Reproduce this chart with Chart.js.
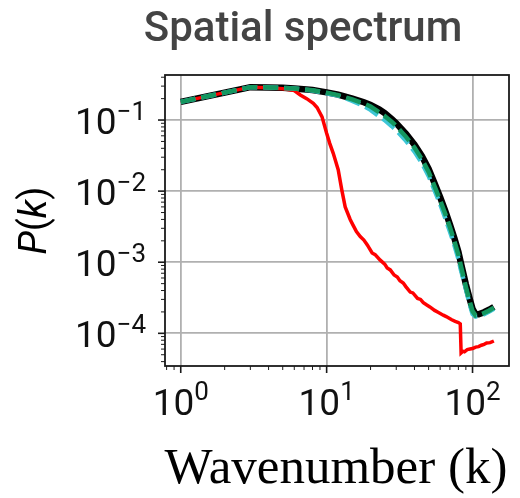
<!DOCTYPE html>
<html>
<head>
<meta charset="utf-8">
<script src="https://cdn.jsdelivr.net/npm/chart.js@4.4.0/dist/chart.umd.min.js"></script>
<style>
    html, body { margin: 0; padding: 0; background: #fff; }
    #wrap { width: 520px; height: 498px; }
</style>
</head>
<body>
<div id="wrap"><canvas id="spectrumChart" width="520" height="498"></canvas></div>
<script>
// wavenumbers shared by the three reference-like curves
const wavenumbers = [1, 2, 3, 4, 5, 6, 8, 10, 12, 15, 18, 20, 23, 25, 28, 30, 35, 40, 45, 50,
    55, 60, 65, 70, 75, 80, 83, 87, 90, 95, 100, 105, 110, 120, 130, 140];

const truthSpectrum = [0.18, 0.243, 0.29, 0.288, 0.284, 0.278, 0.264, 0.245, 0.228, 0.2, 0.178, 0.163,
    0.14, 0.125, 0.103, 0.09, 0.064, 0.045, 0.031, 0.0205, 0.0128, 0.0082, 0.0053, 0.0034, 0.0022,
    0.0014, 0.001, 6.6e-4, 4.9e-4, 3.2e-4, 2.2e-4, 1.85e-4, 1.85e-4, 1.98e-4, 2.15e-4, 2.35e-4];

const greenSpectrum = [0.18, 0.243, 0.29, 0.288, 0.284, 0.278, 0.263, 0.243, 0.224, 0.195, 0.171, 0.155,
    0.128, 0.114, 0.094, 0.082, 0.058, 0.041, 0.028, 0.0186, 0.0116, 0.0074, 0.0048, 0.0031, 0.002,
    0.00127, 9.1e-4, 6.1e-4, 4.5e-4, 2.95e-4, 2.05e-4, 1.78e-4, 1.8e-4, 1.93e-4, 2.1e-4, 2.3e-4];

const cyanSpectrum = [0.18, 0.243, 0.29, 0.288, 0.284, 0.277, 0.26, 0.238, 0.221, 0.186, 0.157, 0.139,
    0.112, 0.1, 0.082, 0.072, 0.051, 0.036, 0.0248, 0.0164, 0.0102, 0.0066, 0.0042, 0.0027, 0.00176,
    0.00112, 8.0e-4, 5.6e-4, 4.2e-4, 2.7e-4, 1.87e-4, 1.72e-4, 1.74e-4, 1.86e-4, 2.03e-4, 2.22e-4];

// red curve has its own sampling (jagged tail, sharp drop near k = 83)
const redWavenumbers = [1, 2, 3, 4, 5, 6, 6.6, 7.3, 8.1, 8.6, 9.3, 10, 10.5, 11.1, 12, 12.7, 13.4, 14.5,
    15.2, 16, 17, 18, 19, 20.5, 21.5, 23.3, 25, 26, 27.3, 29, 30.5, 31.8, 33.5, 35, 37.4, 39, 42, 44,
    46, 48.6, 51, 55, 58, 63, 66, 72, 76, 80, 82.4,
    83.5, 86, 88, 92, 96, 100, 105, 110, 115, 120, 125, 132, 140];
const redSpectrum = [0.18, 0.243, 0.29, 0.285, 0.276, 0.26, 0.225, 0.2, 0.172, 0.15, 0.111, 0.065, 0.047,
    0.034, 0.02, 0.0104, 0.006, 0.004, 0.0033, 0.0027, 0.0023, 0.00205, 0.00175, 0.00135, 0.00128,
    0.00107, 9.4e-4, 8.3e-4, 7.8e-4, 6.6e-4, 6.2e-4, 5.5e-4, 5.1e-4, 4.5e-4, 3.8e-4, 3.7e-4, 3.1e-4,
    3.0e-4, 2.7e-4, 2.5e-4, 2.35e-4, 2.1e-4, 1.98e-4, 1.8e-4, 1.72e-4, 1.55e-4, 1.47e-4, 1.42e-4, 1.36e-4,
    5.3e-5, 5.6e-5, 5.5e-5, 5.9e-5, 6.0e-5, 6.1e-5, 6.4e-5, 6.5e-5, 6.8e-5, 7.0e-5, 7.3e-5, 7.4e-5, 7.8e-5];

const xDecades = [0, 1, 2];
const yDecades = [-1, -2, -3, -4];

function toPoints(xs, ys) {
    return xs.map((x, i) => ({x: x, y: ys[i]}));
}

function isDecade(v) {
    let l = Math.log10(v);
    return Math.abs(l - Math.round(l)) < 1e-6;
}

function gridColor(context) {
    return context.tick && isDecade(context.tick.value) ? '#b0b0b0' : 'rgba(0,0,0,0)';
}

function expText(e) {
    return e < 0 ? '\u2212' + Math.abs(e) : String(e);
}

// frame, tick marks, power-of-ten labels and titles
const decorPlugin = {
    id: 'decor',
    afterDraw(chart) {
        const ctx = chart.ctx;
        const area = chart.chartArea;
        const xs = chart.scales.x;
        const ys = chart.scales.y;
        ctx.save();

        ctx.strokeStyle = '#1a1a1a';
        ctx.lineWidth = 1.8;
        ctx.strokeRect(area.left, area.top, area.right - area.left, area.bottom - area.top);

        // tick marks (outward)
        for (let e = -6; e <= 3; e++) {
            for (let m = 1; m <= 9; m++) {
                let v = m * Math.pow(10, e);
                let len = m === 1 ? 7 : 4;
                ctx.lineWidth = m === 1 ? 1.6 : 1;
                if (v >= xs.min && v <= xs.max) {
                    let px = xs.getPixelForValue(v);
                    ctx.beginPath();
                    ctx.moveTo(px, area.bottom);
                    ctx.lineTo(px, area.bottom + len);
                    ctx.stroke();
                }
                if (v >= ys.min && v <= ys.max) {
                    let py = ys.getPixelForValue(v);
                    ctx.beginPath();
                    ctx.moveTo(area.left, py);
                    ctx.lineTo(area.left - len, py);
                    ctx.stroke();
                }
            }
        }

        const baseFont = '37px Roboto';
        const supFont = '26px Roboto';
        ctx.fillStyle = '#111';
        ctx.textBaseline = 'alphabetic';
        ctx.textAlign = 'left';

        xDecades.forEach(e => {
            let px = xs.getPixelForValue(Math.pow(10, e));
            ctx.font = baseFont;
            let w1 = ctx.measureText('10').width;
            ctx.font = supFont;
            let w2 = ctx.measureText(expText(e)).width;
            let x0 = px - (w1 + w2) / 2;
            ctx.font = baseFont;
            ctx.fillText('10', x0, 415);
            ctx.font = supFont;
            ctx.fillText(expText(e), x0 + w1, 400);
        });

        yDecades.forEach(e => {
            let py = ys.getPixelForValue(Math.pow(10, e));
            ctx.font = supFont;
            let w2 = ctx.measureText(expText(e)).width;
            ctx.font = baseFont;
            let w1 = ctx.measureText('10').width;
            let x0 = 146 - w1 - w2;
            ctx.fillText('10', x0, py + 13.5);
            ctx.font = supFont;
            ctx.fillText(expText(e), x0 + w1, py - 0.5);
        });

        // title
        ctx.fillStyle = '#444';
        ctx.font = '500 42px Roboto';
        ctx.textAlign = 'center';
        ctx.fillText('Spatial spectrum', 303, 41);

        // x axis title
        ctx.fillStyle = '#000';
        ctx.font = '51px "Liberation Serif"';
        ctx.fillText('Wavenumber (k)', 336, 483);

        // y axis title, italic P and k
        const parts = [['P', 'italic 38px Roboto'], ['(', '38px Roboto'], ['k', 'italic 38px Roboto'], [')', '38px Roboto']];
        let total = 0;
        parts.forEach(p => { ctx.font = p[1]; total += ctx.measureText(p[0]).width; });
        ctx.translate(46, (area.top + area.bottom) / 2);
        ctx.rotate(-Math.PI / 2);
        ctx.textAlign = 'left';
        let cx = -total / 2;
        parts.forEach(p => {
            ctx.font = p[1];
            ctx.fillText(p[0], cx, 0);
            cx += ctx.measureText(p[0]).width;
        });

        ctx.restore();
    }
};

const chartData = {
    datasets: [
        {
            label: 'green',
            data: toPoints(wavenumbers, greenSpectrum),
            borderColor: '#14975f',
            borderWidth: 4.5,
            borderDash: [15, 6],
            order: 0
        },
        {
            label: 'cyan',
            data: toPoints(wavenumbers, cyanSpectrum),
            borderColor: '#3ec6d6',
            borderWidth: 4.5,
            borderDash: [15, 6],
            order: 1
        },
        {
            label: 'red',
            data: toPoints(redWavenumbers, redSpectrum),
            borderColor: '#ff0000',
            borderWidth: 3.5,
            order: 2
        },
        {
            label: 'truth',
            data: toPoints(wavenumbers, truthSpectrum),
            borderColor: '#000000',
            borderWidth: 6.5,
            order: 3
        }
    ]
};

new Chart(document.getElementById('spectrumChart').getContext('2d'), {
    type: 'line',
    data: chartData,
    options: {
        responsive: false,
        animation: false,
        devicePixelRatio: 1,
        layout: {padding: {top: 75, right: 11, left: 0, bottom: 0}},
        elements: {
            point: {radius: 0},
            line: {tension: 0, fill: false}
        },
        scales: {
            x: {
                type: 'logarithmic',
                min: 0.78,
                max: 177.8,
                ticks: {display: false, autoSkip: false},
                grid: {color: gridColor, lineWidth: 1.8, drawTicks: false},
                border: {display: false},
                afterFit(scale) { scale.height = 132; }
            },
            y: {
                type: 'logarithmic',
                min: 3.47e-5,
                max: 0.43,
                ticks: {display: false, autoSkip: false},
                grid: {color: gridColor, lineWidth: 1.8, drawTicks: false},
                border: {display: false},
                afterFit(scale) { scale.width = 165; }
            }
        },
        plugins: {
            legend: {display: false},
            title: {display: false},
            tooltip: {enabled: false}
        }
    },
    plugins: [decorPlugin]
});
</script>
</body>
</html>
